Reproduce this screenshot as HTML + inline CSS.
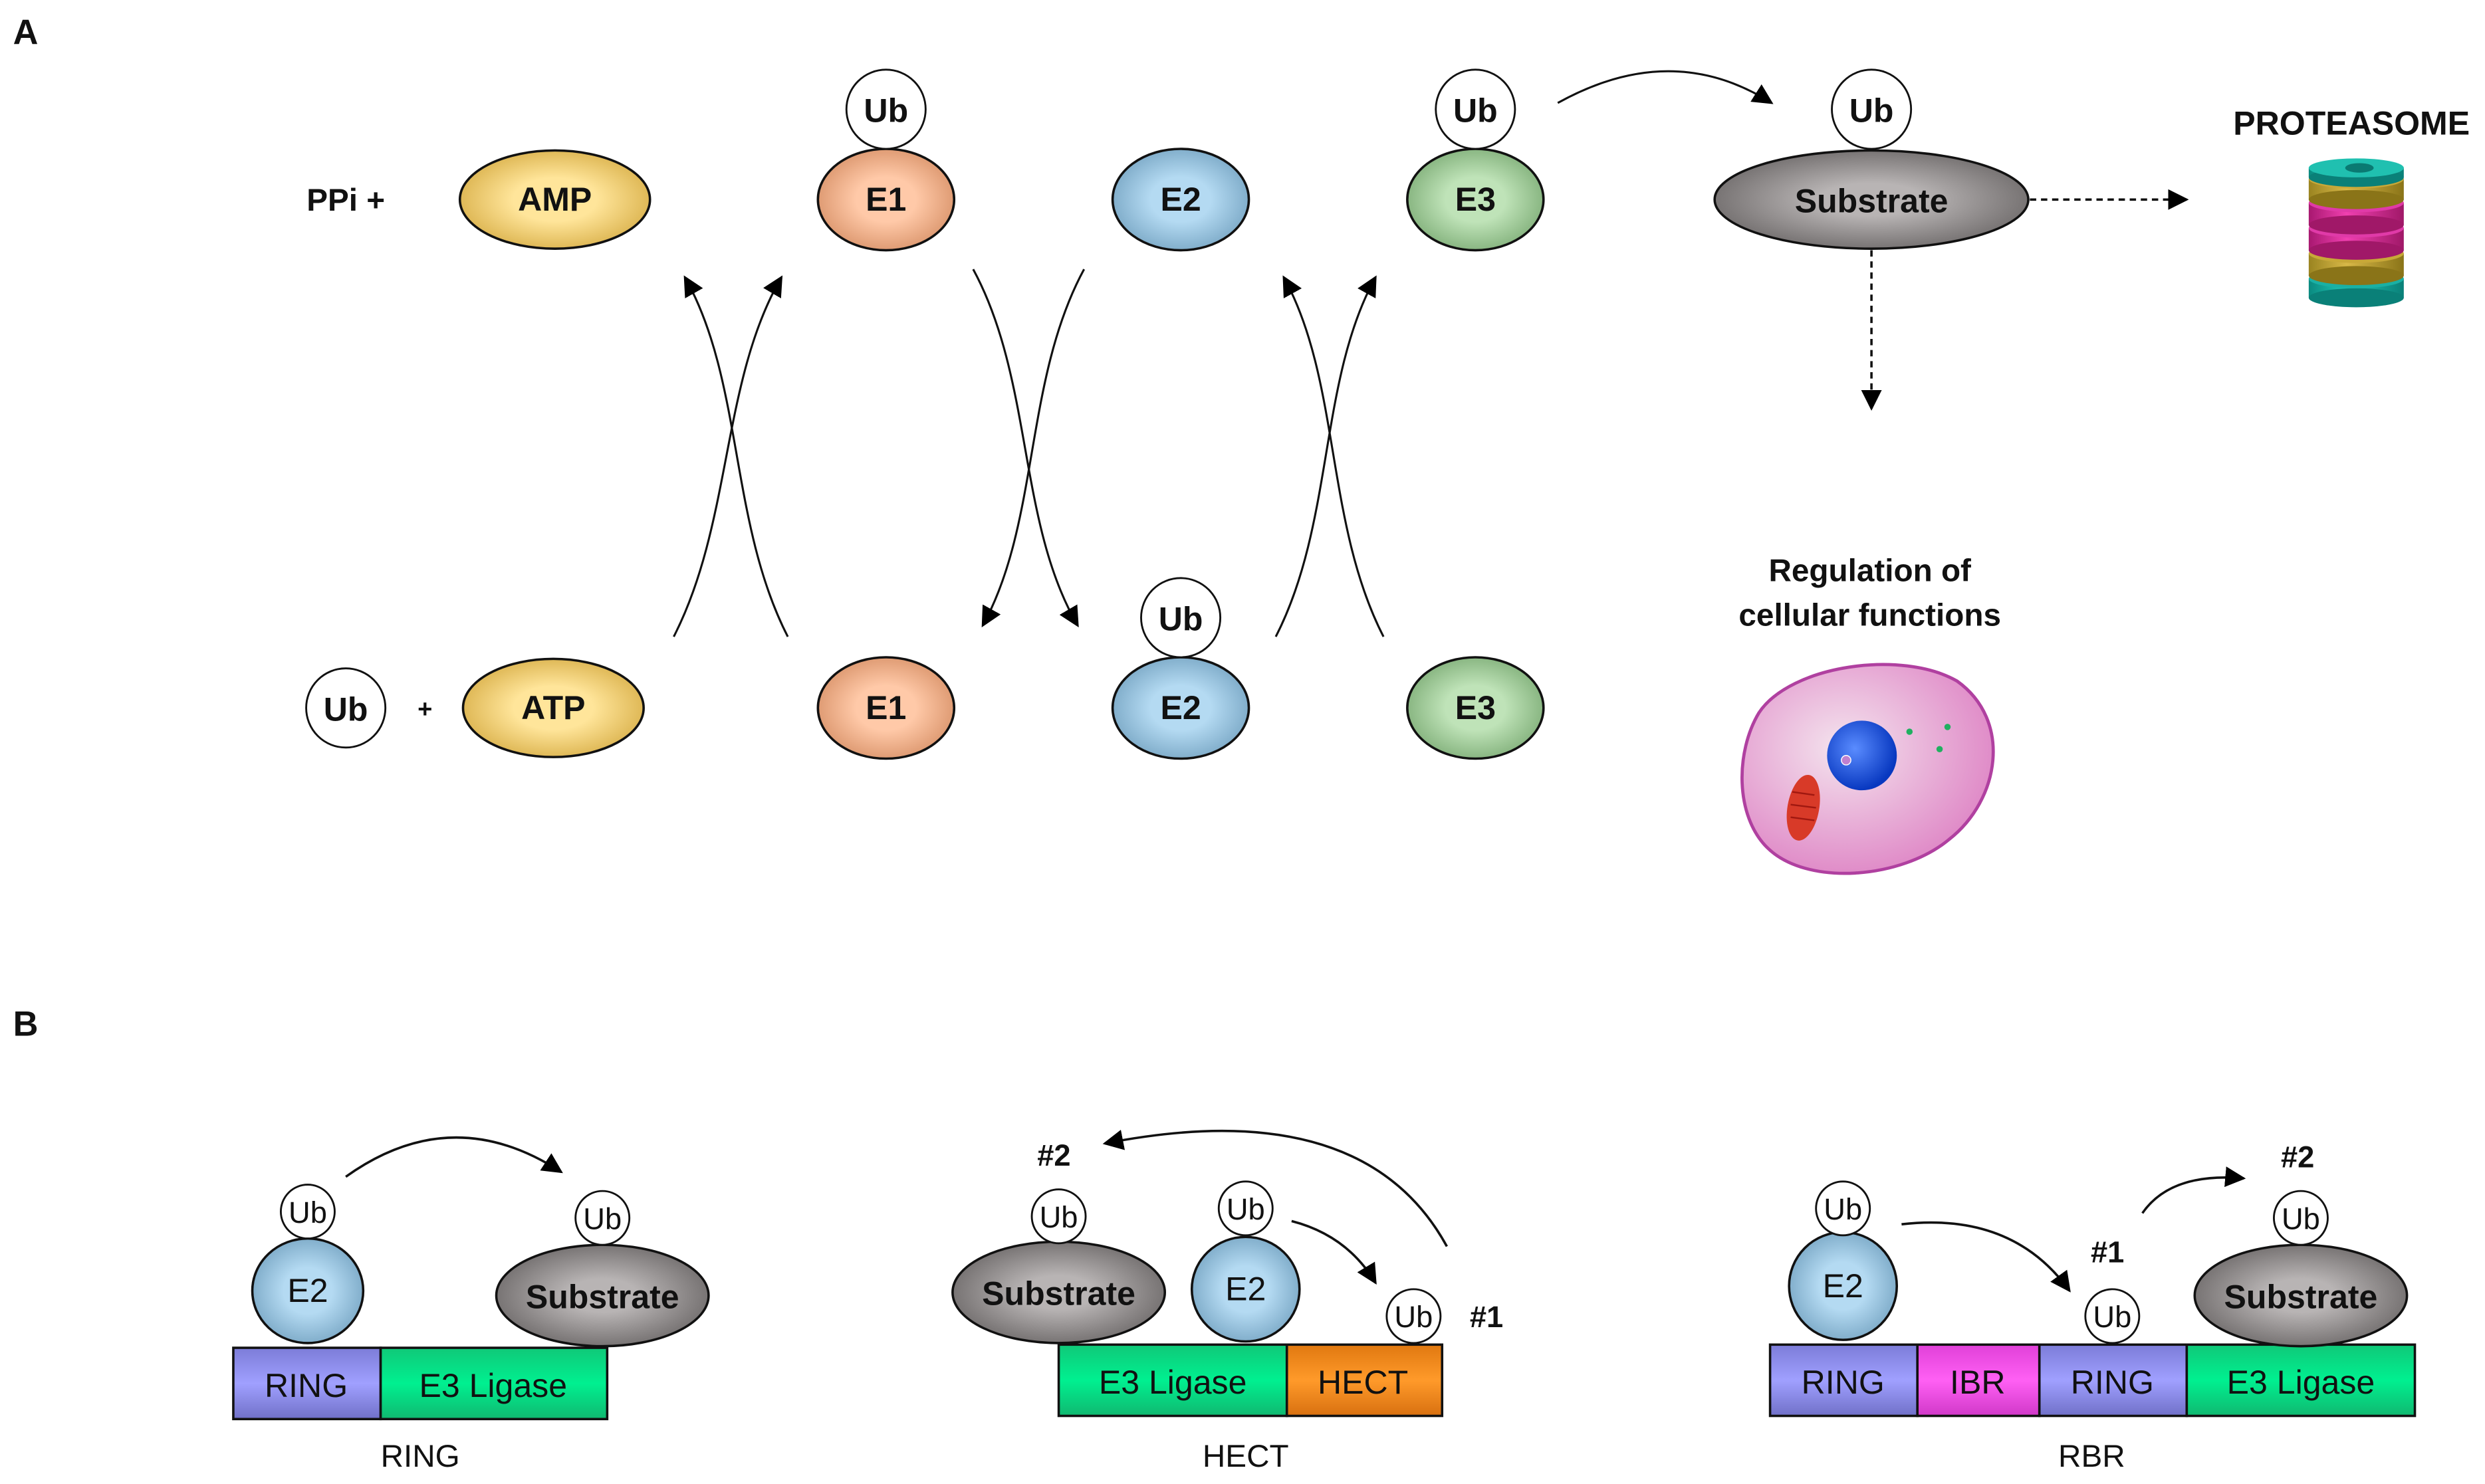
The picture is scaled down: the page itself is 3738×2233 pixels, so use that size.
<!DOCTYPE html>
<html><head><meta charset="utf-8"><style>
html,body{margin:0;padding:0;background:#fff}
svg{display:block}
text{font-family:"Liberation Sans",sans-serif;fill:#111}
.b{font-weight:bold}
.sm{font-size:19px}
</style></head><body>
<svg width="3738" height="2233" viewBox="0 0 1568 937" xmlns="http://www.w3.org/2000/svg">
<defs>
<radialGradient id="gy" cx="50%" cy="50%" r="55%"><stop offset="0.4" stop-color="#ffe59a"/><stop offset="1" stop-color="#d9b04a"/></radialGradient>
<radialGradient id="go" cx="50%" cy="50%" r="55%"><stop offset="0.4" stop-color="#ffc9a8"/><stop offset="1" stop-color="#d9936a"/></radialGradient>
<radialGradient id="gb" cx="50%" cy="50%" r="55%"><stop offset="0.4" stop-color="#b4daf2"/><stop offset="1" stop-color="#78a6c4"/></radialGradient>
<radialGradient id="gg" cx="50%" cy="50%" r="55%"><stop offset="0.4" stop-color="#bfe3b8"/><stop offset="1" stop-color="#7fae78"/></radialGradient>
<radialGradient id="gs" cx="50%" cy="50%" r="55%"><stop offset="0.3" stop-color="#b8b4b4"/><stop offset="1" stop-color="#6e6a6a"/></radialGradient>
<radialGradient id="gc" cx="40%" cy="40%" r="60%"><stop offset="0" stop-color="#f4e4ee"/><stop offset="1" stop-color="#e08cc8"/></radialGradient>
<radialGradient id="gn" cx="40%" cy="40%" r="60%"><stop offset="0" stop-color="#5a8cff"/><stop offset="1" stop-color="#0838c0"/></radialGradient>
<linearGradient id="lp" x1="0" y1="0" x2="0" y2="1"><stop offset="0" stop-color="#7c7cd8"/><stop offset="0.5" stop-color="#a0a0ff"/><stop offset="1" stop-color="#7070c8"/></linearGradient>
<linearGradient id="lg" x1="0" y1="0" x2="0" y2="1"><stop offset="0" stop-color="#10c878"/><stop offset="0.5" stop-color="#00f090"/><stop offset="1" stop-color="#10b870"/></linearGradient>
<linearGradient id="lo" x1="0" y1="0" x2="0" y2="1"><stop offset="0" stop-color="#e07810"/><stop offset="0.5" stop-color="#ff9a2a"/><stop offset="1" stop-color="#d87010"/></linearGradient>
<linearGradient id="lm" x1="0" y1="0" x2="0" y2="1"><stop offset="0" stop-color="#e040d8"/><stop offset="0.5" stop-color="#ff60f4"/><stop offset="1" stop-color="#d038c8"/></linearGradient>
<linearGradient id="lt" x1="0" y1="0" x2="1" y2="0"><stop offset="0" stop-color="#0a8a80"/><stop offset="0.4" stop-color="#20c8b8"/><stop offset="1" stop-color="#0a8078"/></linearGradient>
<linearGradient id="lgo" x1="0" y1="0" x2="1" y2="0"><stop offset="0" stop-color="#9a8420"/><stop offset="0.4" stop-color="#d8b848"/><stop offset="1" stop-color="#8a7418"/></linearGradient>
<linearGradient id="lmg" x1="0" y1="0" x2="1" y2="0"><stop offset="0" stop-color="#a81870"/><stop offset="0.4" stop-color="#f040b0"/><stop offset="1" stop-color="#a01868"/></linearGradient>
<marker id="ar2" viewBox="0 0 10 10" refX="9" refY="5" markerWidth="13" markerHeight="13" orient="auto" markerUnits="userSpaceOnUse"><path d="M0,0 L10,5 L0,10 z" fill="#000"/></marker>
</defs>

<text x="8" y="28" style="font-size:22px" class="b">A</text>
<text x="8" y="654" style="font-size:22px" class="b">B</text>

<g class="b">
<text x="218" y="133" style="font-size:20px;text-anchor:middle">PPi +</text>
</g>
<ellipse cx="350" cy="126" rx="60" ry="31" fill="url(#gy)" stroke="#111" stroke-width="1.5"/>
<text x="350" y="133" class="b" style="font-size:21px;text-anchor:middle">AMP</text>
<ellipse cx="559" cy="126" rx="43" ry="32" fill="url(#go)" stroke="#111" stroke-width="1.5"/>
<text x="559" y="133" class="b" style="font-size:21px;text-anchor:middle">E1</text>
<circle cx="559" cy="69" r="25" fill="#fff" stroke="#111" stroke-width="1.2"/>
<text x="559" y="77" class="b" style="font-size:21px;text-anchor:middle">Ub</text>
<ellipse cx="745" cy="126" rx="43" ry="32" fill="url(#gb)" stroke="#111" stroke-width="1.5"/>
<text x="745" y="133" class="b" style="font-size:21px;text-anchor:middle">E2</text>
<ellipse cx="931" cy="126" rx="43" ry="32" fill="url(#gg)" stroke="#111" stroke-width="1.5"/>
<text x="931" y="133" class="b" style="font-size:21px;text-anchor:middle">E3</text>
<circle cx="931" cy="69" r="25" fill="#fff" stroke="#111" stroke-width="1.2"/>
<text x="931" y="77" class="b" style="font-size:21px;text-anchor:middle">Ub</text>
<ellipse cx="1181" cy="126" rx="99" ry="31" fill="url(#gs)" stroke="#111" stroke-width="1.5"/>
<text x="1181" y="134" style="font-size:21px;text-anchor:middle" class="b">Substrate</text>
<circle cx="1181" cy="69" r="25" fill="#fff" stroke="#111" stroke-width="1.2"/>
<text x="1181" y="77" class="b" style="font-size:21px;text-anchor:middle">Ub</text>

<circle cx="218" cy="447" r="25" fill="#fff" stroke="#111" stroke-width="1.2"/>
<text x="218" y="455" class="b" style="font-size:21px;text-anchor:middle">Ub</text>
<text x="268" y="453" class="b" style="font-size:16px;text-anchor:middle">+</text>
<ellipse cx="349" cy="447" rx="57" ry="31" fill="url(#gy)" stroke="#111" stroke-width="1.5"/>
<text x="349" y="454" class="b" style="font-size:21px;text-anchor:middle">ATP</text>
<ellipse cx="559" cy="447" rx="43" ry="32" fill="url(#go)" stroke="#111" stroke-width="1.5"/>
<text x="559" y="454" class="b" style="font-size:21px;text-anchor:middle">E1</text>
<ellipse cx="745" cy="447" rx="43" ry="32" fill="url(#gb)" stroke="#111" stroke-width="1.5"/>
<text x="745" y="454" class="b" style="font-size:21px;text-anchor:middle">E2</text>
<circle cx="745" cy="390" r="25" fill="#fff" stroke="#111" stroke-width="1.2"/>
<text x="745" y="398" class="b" style="font-size:21px;text-anchor:middle">Ub</text>
<ellipse cx="931" cy="447" rx="43" ry="32" fill="url(#gg)" stroke="#111" stroke-width="1.5"/>
<text x="931" y="454" class="b" style="font-size:21px;text-anchor:middle">E3</text>

<g fill="none" stroke="#111" stroke-width="1.3">
<path d="M425,402 C462,330 455,240 493,175" marker-end="url(#ar2)"/>
<path d="M497,402 C460,330 469,240 432,175" marker-end="url(#ar2)"/>
<path d="M614,170 C652,240 642,330 680,395" marker-end="url(#ar2)"/>
<path d="M684,170 C646,240 656,330 620,395" marker-end="url(#ar2)"/>
<path d="M805,402 C842,330 832,240 868,175" marker-end="url(#ar2)"/>
<path d="M873,402 C836,330 846,240 810,175" marker-end="url(#ar2)"/>
<path d="M983,65 Q1055,25 1118,65" marker-end="url(#ar2)"/>
</g>
<g fill="none" stroke="#111" stroke-width="1.5" stroke-dasharray="4,3">
<path d="M1281,126 L1380,126" marker-end="url(#ar2)"/>
<path d="M1181,158 L1181,258" marker-end="url(#ar2)"/>
</g>

<text x="1484" y="85" style="font-size:21px;text-anchor:middle" class="b">PROTEASOME</text>
<g stroke="none">
<rect x="1457" y="176" width="60" height="12" fill="url(#lt)"/><ellipse cx="1487" cy="188" rx="30" ry="6" fill="#0a8078"/><ellipse cx="1487" cy="176" rx="30" ry="6" fill="#1ab0a4"/>
<rect x="1457" y="160" width="60" height="14" fill="url(#lgo)"/><ellipse cx="1487" cy="174" rx="30" ry="6" fill="#8a7418"/><ellipse cx="1487" cy="160" rx="30" ry="6" fill="#c8a838"/>
<rect x="1457" y="144" width="60" height="14" fill="url(#lmg)"/><ellipse cx="1487" cy="158" rx="30" ry="6" fill="#a01868"/><ellipse cx="1487" cy="144" rx="30" ry="6" fill="#e03aa8"/>
<rect x="1457" y="128" width="60" height="14" fill="url(#lmg)"/><ellipse cx="1487" cy="142" rx="30" ry="6" fill="#a01868"/><ellipse cx="1487" cy="128" rx="30" ry="6" fill="#e03aa8"/>
<rect x="1457" y="113" width="60" height="13" fill="url(#lgo)"/><ellipse cx="1487" cy="126" rx="30" ry="6" fill="#8a7418"/><ellipse cx="1487" cy="113" rx="30" ry="6" fill="#c8a838"/>
<rect x="1457" y="106" width="60" height="6" fill="url(#lt)"/><ellipse cx="1487" cy="112" rx="30" ry="6" fill="#0a8078"/><ellipse cx="1487" cy="106" rx="30" ry="6" fill="#20c0b0"/>
<ellipse cx="1489" cy="106" rx="9" ry="3" fill="#0a7a72"/>
</g>

<text x="1180" y="367" style="font-size:20px;text-anchor:middle" class="b">Regulation of</text>
<text x="1180" y="395" style="font-size:20px;text-anchor:middle" class="b">cellular functions</text>
<path d="M1110,450 C1130,420 1200,410 1235,430 C1270,455 1262,505 1230,530 C1200,555 1140,560 1115,535 C1095,515 1095,475 1110,450 Z" fill="url(#gc)" stroke="#b040a0" stroke-width="2"/>
<circle cx="1175" cy="477" r="22" fill="url(#gn)"/>
<circle cx="1165" cy="480" r="3" fill="#c080d0" stroke="#fff" stroke-width="0.6"/>
<ellipse cx="1138" cy="510" rx="10" ry="21" fill="#d83a28" transform="rotate(10 1138 510)"/>
<g stroke="#a01810" stroke-width="1"><line x1="1131" y1="500" x2="1145" y2="502"/><line x1="1130" y1="508" x2="1146" y2="510"/><line x1="1130" y1="516" x2="1145" y2="518"/></g>
<circle cx="1205" cy="462" r="2" fill="#20b060"/><circle cx="1229" cy="459" r="2" fill="#20b060"/><circle cx="1224" cy="473" r="2" fill="#20b060"/>

<g fill="none" stroke="#111" stroke-width="1.5">
<path d="M218,743 Q285,695 354,740" marker-end="url(#ar2)"/>
<path d="M913,787 Q860,690 697,722" marker-end="url(#ar2)"/>
<path d="M815,771 Q850,780 868,810" marker-end="url(#ar2)"/>
<path d="M1200,773 Q1270,765 1306,815" marker-end="url(#ar2)"/>
<path d="M1352,766 Q1370,740 1416,744" marker-end="url(#ar2)"/>
</g>

<rect x="147" y="851" width="93" height="45" fill="url(#lp)" stroke="#111" stroke-width="1.5"/>
<rect x="240" y="851" width="143" height="45" fill="url(#lg)" stroke="#111" stroke-width="1.5"/>
<text x="193" y="882" style="font-size:21px;text-anchor:middle">RING</text>
<text x="311" y="882" style="font-size:21px;text-anchor:middle">E3 Ligase</text>
<ellipse cx="194" cy="815" rx="35" ry="33" fill="url(#gb)" stroke="#111" stroke-width="1.5"/>
<text x="194" y="822" style="font-size:21px;text-anchor:middle">E2</text>
<circle cx="194" cy="765" r="17" fill="#fff" stroke="#111" stroke-width="1.2"/>
<text x="194" y="772" class="sm" style="text-anchor:middle">Ub</text>
<ellipse cx="380" cy="818" rx="67" ry="32" fill="url(#gs)" stroke="#111" stroke-width="1.5"/>
<text x="380" y="826" class="b" style="font-size:21px;text-anchor:middle">Substrate</text>
<circle cx="380" cy="769" r="17" fill="#fff" stroke="#111" stroke-width="1.2"/>
<text x="380" y="776" class="sm" style="text-anchor:middle">Ub</text>
<text x="265" y="926" style="font-size:20px;text-anchor:middle">RING</text>

<rect x="668" y="849" width="144" height="45" fill="url(#lg)" stroke="#111" stroke-width="1.5"/>
<rect x="812" y="849" width="98" height="45" fill="url(#lo)" stroke="#111" stroke-width="1.5"/>
<text x="740" y="880" style="font-size:21px;text-anchor:middle">E3 Ligase</text>
<text x="860" y="880" style="font-size:21px;text-anchor:middle">HECT</text>
<ellipse cx="668" cy="816" rx="67" ry="32" fill="url(#gs)" stroke="#111" stroke-width="1.5"/>
<text x="668" y="824" class="b" style="font-size:21px;text-anchor:middle">Substrate</text>
<circle cx="668" cy="768" r="17" fill="#fff" stroke="#111" stroke-width="1.2"/>
<text x="668" y="775" class="sm" style="text-anchor:middle">Ub</text>
<ellipse cx="786" cy="814" rx="34" ry="33" fill="url(#gb)" stroke="#111" stroke-width="1.5"/>
<text x="786" y="821" style="font-size:21px;text-anchor:middle">E2</text>
<circle cx="786" cy="763" r="17" fill="#fff" stroke="#111" stroke-width="1.2"/>
<text x="786" y="770" class="sm" style="text-anchor:middle">Ub</text>
<circle cx="892" cy="831" r="17" fill="#fff" stroke="#111" stroke-width="1.2"/>
<text x="892" y="838" class="sm" style="text-anchor:middle">Ub</text>
<text x="938" y="838" style="font-size:19px;text-anchor:middle" class="b">#1</text>
<text x="665" y="736" style="font-size:19px;text-anchor:middle" class="b">#2</text>
<text x="786" y="926" style="font-size:20px;text-anchor:middle">HECT</text>

<rect x="1117" y="849" width="93" height="45" fill="url(#lp)" stroke="#111" stroke-width="1.5"/>
<rect x="1210" y="849" width="77" height="45" fill="url(#lm)" stroke="#111" stroke-width="1.5"/>
<rect x="1287" y="849" width="93" height="45" fill="url(#lp)" stroke="#111" stroke-width="1.5"/>
<rect x="1380" y="849" width="144" height="45" fill="url(#lg)" stroke="#111" stroke-width="1.5"/>
<text x="1163" y="880" style="font-size:21px;text-anchor:middle">RING</text>
<text x="1248" y="880" style="font-size:21px;text-anchor:middle">IBR</text>
<text x="1333" y="880" style="font-size:21px;text-anchor:middle">RING</text>
<text x="1452" y="880" style="font-size:21px;text-anchor:middle">E3 Ligase</text>
<ellipse cx="1163" cy="812" rx="34" ry="34" fill="url(#gb)" stroke="#111" stroke-width="1.5"/>
<text x="1163" y="819" style="font-size:21px;text-anchor:middle">E2</text>
<circle cx="1163" cy="763" r="17" fill="#fff" stroke="#111" stroke-width="1.2"/>
<text x="1163" y="770" class="sm" style="text-anchor:middle">Ub</text>
<circle cx="1333" cy="831" r="17" fill="#fff" stroke="#111" stroke-width="1.2"/>
<text x="1333" y="838" class="sm" style="text-anchor:middle">Ub</text>
<text x="1330" y="797" style="font-size:19px;text-anchor:middle" class="b">#1</text>
<ellipse cx="1452" cy="818" rx="67" ry="32" fill="url(#gs)" stroke="#111" stroke-width="1.5"/>
<text x="1452" y="826" class="b" style="font-size:21px;text-anchor:middle">Substrate</text>
<circle cx="1452" cy="769" r="17" fill="#fff" stroke="#111" stroke-width="1.2"/>
<text x="1452" y="776" class="sm" style="text-anchor:middle">Ub</text>
<text x="1450" y="737" style="font-size:19px;text-anchor:middle" class="b">#2</text>
<text x="1320" y="926" style="font-size:20px;text-anchor:middle">RBR</text>
</svg>
</body></html>
